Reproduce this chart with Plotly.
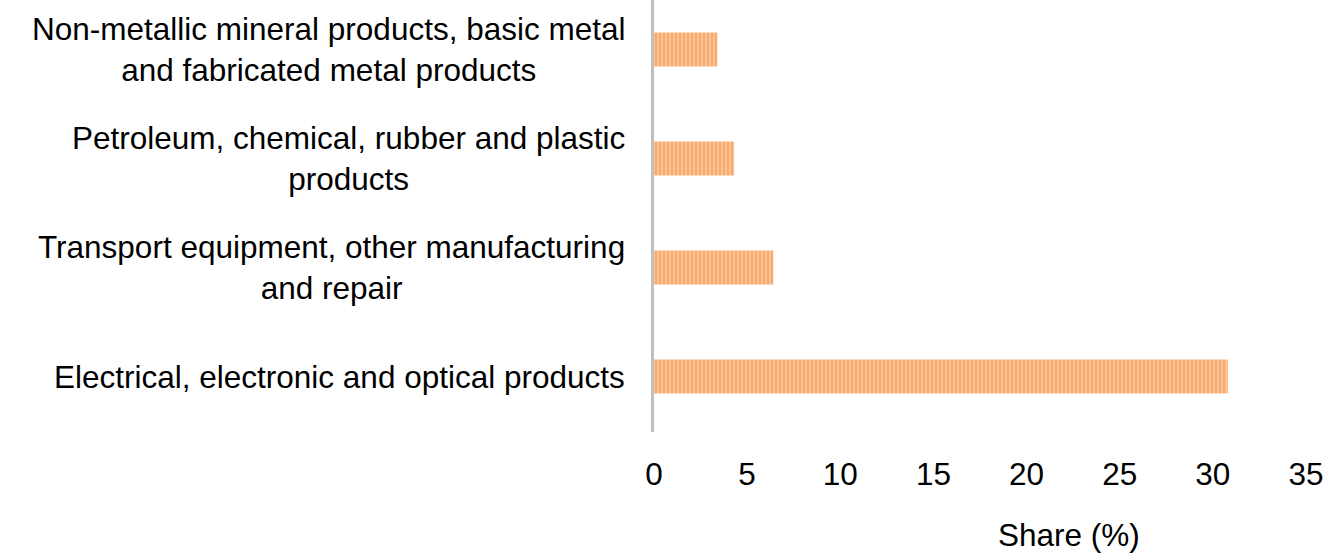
import plotly.graph_objects as go

categories = [
    "Electrical, electronic and optical products",
    "Transport equipment, other manufacturing<br>and repair",
    "Petroleum, chemical, rubber and plastic<br>products",
    "Non-metallic mineral products, basic metal<br>and fabricated metal products",
]
shares = [30.8, 6.4, 4.3, 3.4]
x_ticks = [0, 5, 10, 15, 20, 25, 30, 35]

W, H = 1329, 555
L, R, T, B = 654, 23, 0, 123
pw, ph = W - L - R, H - T - B
FS = 31.5

fig = go.Figure()
fig.add_trace(go.Bar(
    x=shares,
    y=categories,
    orientation="h",
    width=0.31,
    marker=dict(
        color="#F9B47E",
        line=dict(width=0),
        pattern=dict(shape="|", fgcolor="#F68E3F", bgcolor="#FBC497", size=4, solidity=0.5),
    ),
    hoverinfo="x+y",
))

annotations = []
for cat in categories:
    annotations.append(dict(
        text=cat, xref="paper", yref="y", x=(627 - L) / pw, y=cat,
        xanchor="right", yanchor="middle", align="center", showarrow=False,
        font=dict(size=FS),
    ))

annotations.append(dict(
    text="Share (%)", x=(1069 - L) / pw, y=(H - B - 535) / ph,
    xref="paper", yref="paper", xanchor="center", yanchor="middle",
    showarrow=False, borderpad=0, font=dict(size=FS),
))

fig.update_layout(
    width=W, height=H,
    margin=dict(l=L, r=R, t=T, b=B),
    plot_bgcolor="white", paper_bgcolor="white",
    font=dict(family="Liberation Sans, Arial, sans-serif", size=FS, color="#000000"),
    showlegend=False,
    xaxis=dict(
        range=[0, 35], tickvals=x_ticks, showgrid=False, zeroline=False,
        showline=False, ticks="", ticklabelstandoff=20,
        tickfont=dict(size=FS),
    ),
    yaxis=dict(
        type="category", range=[-0.509, 3.454], showgrid=False, zeroline=False,
        showline=True, linecolor="#BFBFBF", linewidth=3, ticks="",
        showticklabels=False,
    ),
    annotations=annotations,
)

fig.write_html("out.html", config={"displayModeBar": False})
with open("out.html", "r", encoding="utf-8") as f:
    html = f.read()
html = html.replace("<head>", "<head><style>html,body{margin:0;padding:0;overflow:hidden;}</style>", 1)
with open("out.html", "w", encoding="utf-8") as f:
    f.write(html)
